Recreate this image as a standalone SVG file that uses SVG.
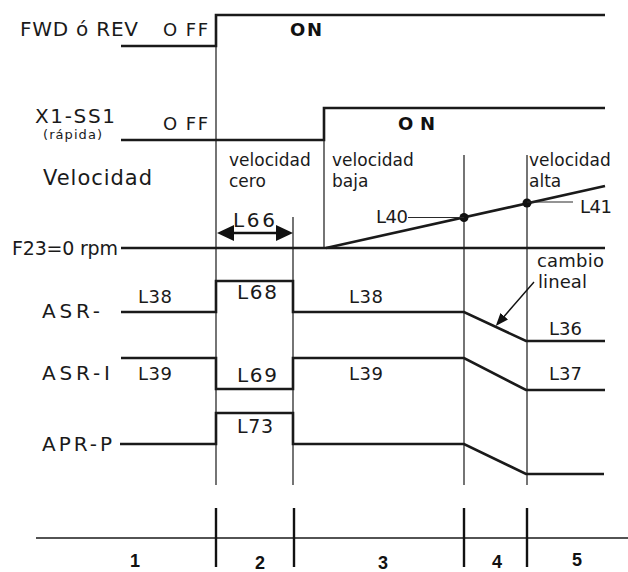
<svg xmlns="http://www.w3.org/2000/svg" width="628" height="572" viewBox="0 0 628 572">
<defs>
<style>
.t{font-family:"DejaVu Sans","Verdana",sans-serif;fill:#1a1a1a;}
.b{font-family:"DejaVu Sans",sans-serif;font-weight:bold;fill:#111;}
.n{font-family:"Liberation Sans",Arial,sans-serif;font-weight:bold;fill:#111;font-size:18px;}
.sig{fill:none;stroke:#1a1a1a;stroke-width:2.6;stroke-linejoin:miter;}
.div{fill:none;stroke:#2a2a2a;stroke-width:1.3;}
.thin{fill:none;stroke:#2a2a2a;stroke-width:1.2;}
.tick{fill:none;stroke:#111;stroke-width:2.4;}
</style>
<marker id="big" viewBox="0 0 17 16" refX="7" refY="8" markerWidth="17" markerHeight="16" orient="auto-start-reverse" markerUnits="userSpaceOnUse">
<path d="M0,0 L17,8 L0,16 z" fill="#111"/>
</marker>
<marker id="small" viewBox="0 0 13 10" refX="5" refY="5" markerWidth="13" markerHeight="10" orient="auto" markerUnits="userSpaceOnUse">
<path d="M0,0 L13,5 L0,10 z" fill="#111"/>
</marker>
</defs>
<rect width="628" height="572" fill="#ffffff"/>

<g id="dividers">
<line class="div" x1="216" y1="15" x2="216" y2="485"/>
<line class="div" x1="293" y1="217" x2="293" y2="485"/>
<line class="div" x1="324" y1="108" x2="324" y2="248"/>
<line class="div" x1="464" y1="155" x2="464" y2="485"/>
<line class="div" x1="527" y1="155" x2="527" y2="485"/>
</g>

<g id="fwd">
<text class="t" x="20" y="36" font-size="20" textLength="118" lengthAdjust="spacing">FWD ó REV</text>
<text class="t" x="163" y="36" font-size="18" textLength="45" lengthAdjust="spacing">O FF</text>
<text class="b" x="290" y="36" font-size="18" textLength="32" lengthAdjust="spacing">ON</text>
<polyline class="sig" points="121,46 216,46 216,15 605,15"/>
</g>

<g id="x1ss1">
<text class="t" x="35" y="123" font-size="20" textLength="80" lengthAdjust="spacing">X1-SS1</text>
<text class="t" x="43" y="139" font-size="13" textLength="59" lengthAdjust="spacing">(rápida)</text>
<text class="t" x="163" y="130" font-size="18" textLength="45" lengthAdjust="spacing">O FF</text>
<text class="b" x="398" y="130" font-size="18" textLength="37" lengthAdjust="spacing">ON</text>
<polyline class="sig" points="121,140 324,140 324,108 605,108"/>
</g>

<g id="velocidad">
<text class="t" x="43" y="185" font-size="21" textLength="109" lengthAdjust="spacing">Velocidad</text>
<text class="t" x="229" y="166" font-size="17">velocidad</text>
<text class="t" x="229" y="187" font-size="17">cero</text>
<text class="t" x="332" y="166" font-size="17">velocidad</text>
<text class="t" x="332" y="187" font-size="17">baja</text>
<text class="t" x="529" y="166" font-size="17">velocidad</text>
<text class="t" x="529" y="187" font-size="17">alta</text>
<text class="t" x="233" y="227" font-size="20" textLength="42" lengthAdjust="spacing">L66</text>
<line x1="227" y1="233" x2="283" y2="233" stroke="#111" stroke-width="2.6" marker-start="url(#big)" marker-end="url(#big)"/>
<text class="t" x="12" y="255" font-size="19" textLength="106" lengthAdjust="spacing">F23=0 rpm</text>
<line class="sig" x1="121" y1="248" x2="605" y2="248"/>
<line class="sig" x1="326" y1="248" x2="605" y2="186" stroke-width="2.8"/>
<circle cx="464" cy="217.5" r="4.5" fill="#111"/>
<circle cx="527" cy="203" r="4.5" fill="#111"/>
<line class="thin" x1="408" y1="217.5" x2="464" y2="217.5"/>
<text class="t" x="376" y="223" font-size="18" textLength="32" lengthAdjust="spacing">L40</text>
<line class="thin" x1="527" y1="202" x2="573" y2="202"/>
<text class="t" x="580" y="213" font-size="18" textLength="32" lengthAdjust="spacing">L41</text>
</g>

<g id="cambio">
<text class="t" x="537" y="267" font-size="18" textLength="67" lengthAdjust="spacing">cambio</text>
<text class="t" x="538" y="288" font-size="18" textLength="49" lengthAdjust="spacing">lineal</text>
<line x1="534" y1="282" x2="501" y2="320" stroke="#111" stroke-width="1.4" marker-end="url(#small)"/>
</g>

<g id="asr">
<text class="t" x="42" y="318" font-size="20" textLength="58" lengthAdjust="spacing">ASR-</text>
<text class="t" x="138" y="303" font-size="18" textLength="34" lengthAdjust="spacing">L38</text>
<text class="t" x="237" y="299" font-size="20" textLength="40" lengthAdjust="spacing">L68</text>
<text class="t" x="349" y="303" font-size="18" textLength="34" lengthAdjust="spacing">L38</text>
<text class="t" x="549" y="335" font-size="18" textLength="33" lengthAdjust="spacing">L36</text>
<polyline class="sig" points="121,312 216,312 216,281 293,281 293,312 464,312 526,341 605,341"/>
</g>

<g id="asri">
<text class="t" x="42" y="380" font-size="20" textLength="68" lengthAdjust="spacing">ASR-I</text>
<text class="t" x="138" y="380" font-size="18" textLength="34" lengthAdjust="spacing">L39</text>
<text class="t" x="237" y="382" font-size="20" textLength="40" lengthAdjust="spacing">L69</text>
<text class="t" x="349" y="380" font-size="18" textLength="34" lengthAdjust="spacing">L39</text>
<text class="t" x="549" y="380" font-size="18" textLength="33" lengthAdjust="spacing">L37</text>
<polyline class="sig" points="121,358 216,358 216,389 293,389 293,358 464,358 526,390 605,390"/>
</g>

<g id="aprp">
<text class="t" x="42" y="451" font-size="20" textLength="70" lengthAdjust="spacing">APR-P</text>
<text class="t" x="237" y="433" font-size="19" textLength="36" lengthAdjust="spacing">L73</text>
<polyline class="sig" points="120,444 216,444 216,413 293,413 293,444 464,444 526,474 604,474"/>
</g>

<g id="axis">
<line x1="36" y1="538" x2="628" y2="538" stroke="#1a1a1a" stroke-width="1.6"/>
<line class="tick" x1="216" y1="508" x2="216" y2="567"/>
<line class="tick" x1="294" y1="508" x2="294" y2="567"/>
<line class="tick" x1="464" y1="508" x2="464" y2="567"/>
<line class="tick" x1="527" y1="508" x2="527" y2="567"/>
<text class="n" x="130" y="567">1</text>
<text class="n" x="255" y="569">2</text>
<text class="n" x="378" y="569">3</text>
<text class="n" x="492" y="568">4</text>
<text class="n" x="572" y="566">5</text>
</g>
</svg>
